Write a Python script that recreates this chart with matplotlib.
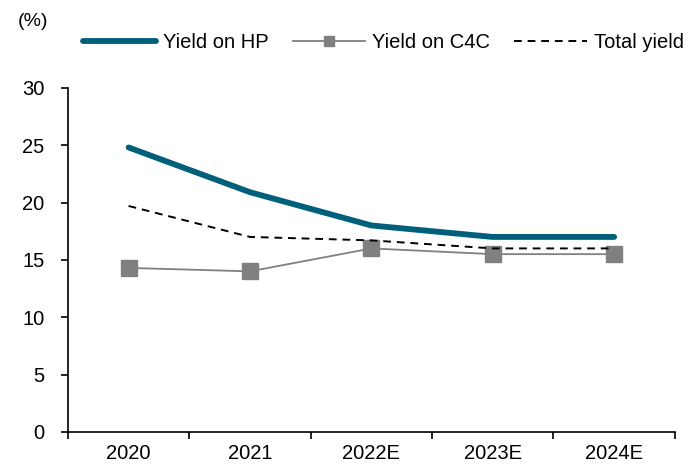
import matplotlib.pyplot as plt

plt.rcParams['font.family'] = ['Liberation Sans', 'DejaVu Sans']

years = ['2020', '2021', '2022E', '2023E', '2024E']
yield_hp = [24.8, 20.9, 18.0, 17.0, 17.0]
yield_c4c = [14.3, 14.0, 16.0, 15.5, 15.5]
total_yield = [19.7, 17.0, 16.7, 16.0, 16.0]

fig = plt.figure(figsize=(7, 4.67), dpi=100)
ax = fig.add_axes([0.097, 0.075, 0.867, 0.737])

x = range(len(years))
ax.plot(x, yield_hp, color='#005F7A', linewidth=4.2, solid_capstyle='round', label='Yield on HP')
ax.plot(x, yield_c4c, color='#808080', linewidth=1.3, marker='s', markersize=11,
        label='Yield on C4C')
ax.plot(x, total_yield, color='black', linewidth=1.4, linestyle=(0, (4, 3)), label='Total yield')

ax.set_xlim(-0.5, len(years) - 0.5)
ax.set_ylim(0, 30)
ax.set_yticks(range(0, 31, 5))
ax.set_xticks([i - 0.5 for i in range(len(years) + 1)], minor=False)
ax.set_xticklabels([])
ax.set_xticks(list(x), minor=True)
ax.set_xticklabels(years, minor=True)
ax.tick_params(axis='x', which='minor', length=0, pad=9, labelsize=14.5)
ax.tick_params(axis='x', which='major', length=5, direction='out', width=1.2)
ax.tick_params(axis='y', length=5, direction='out', width=1.2, labelsize=14.5, pad=12)
for s in ['top', 'right']:
    ax.spines[s].set_visible(False)
for s in ['left', 'bottom']:
    ax.spines[s].set_linewidth(1.2)

fig.text(0.025, 0.955, '(%)', fontsize=14, va='center')
fig.legend(loc='center', bbox_to_anchor=(0.548, 0.908), ncol=3, frameon=False,
           fontsize=14.5, handlelength=3.6, handletextpad=0.35, columnspacing=1.2,
           markerscale=0.7)

plt.savefig('out.png', dpi=100)
